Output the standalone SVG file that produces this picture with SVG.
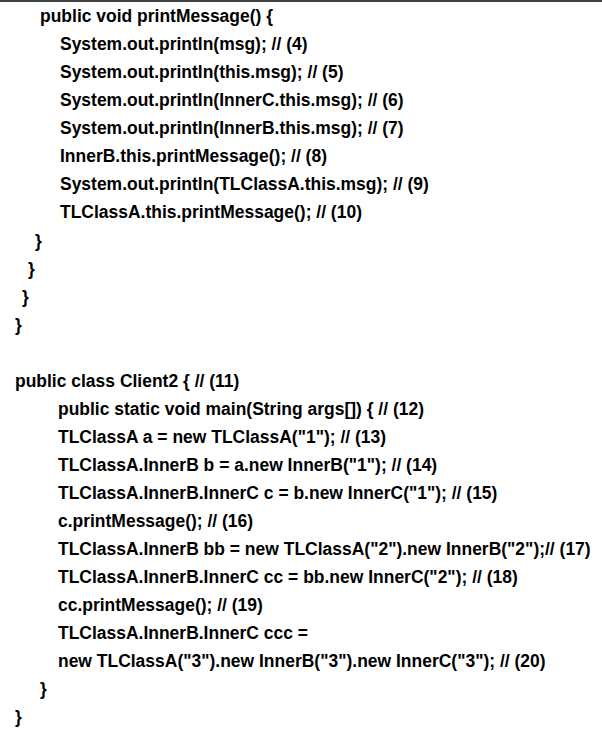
<svg xmlns="http://www.w3.org/2000/svg" width="602" height="739" viewBox="0 0 602 739">
<style>text{font-family:"Liberation Sans",Arial,sans-serif;font-weight:bold;font-size:19px;fill:#000}</style>
<rect width="602" height="739" fill="#fff"/>
<line x1="0" y1="1" x2="602" y2="1" stroke="#000" stroke-width="1.5"/>
<g transform="scale(0.92,1)">
<text x="43.5" y="22">public void printMessage() {</text>
<text x="65.2" y="50">System.out.println(msg); // (4)</text>
<text x="65.2" y="78">System.out.println(this.msg); // (5)</text>
<text x="65.2" y="106">System.out.println(InnerC.this.msg); // (6)</text>
<text x="65.2" y="134">System.out.println(InnerB.this.msg); // (7)</text>
<text x="65.2" y="162">InnerB.this.printMessage(); // (8)</text>
<text x="65.2" y="190">System.out.println(TLClassA.this.msg); // (9)</text>
<text x="65.2" y="218">TLClassA.this.printMessage(); // (10)</text>
<text x="38" y="247">}</text>
<text x="30.4" y="275">}</text>
<text x="23.9" y="303">}</text>
<text x="16.3" y="331">}</text>
<text x="16.3" y="387">public class Client2 { // (11)</text>
<text x="63" y="415">public static void main(String args[]) { // (12)</text>
<text x="63" y="443">TLClassA a = new TLClassA("1"); // (13)</text>
<text x="63" y="471">TLClassA.InnerB b = a.new InnerB("1"); // (14)</text>
<text x="63" y="499">TLClassA.InnerB.InnerC c = b.new InnerC("1"); // (15)</text>
<text x="63" y="527">c.printMessage(); // (16)</text>
<text x="63" y="555">TLClassA.InnerB bb = new TLClassA("2").new InnerB("2");// (17)</text>
<text x="63" y="583">TLClassA.InnerB.InnerC cc = bb.new InnerC("2"); // (18)</text>
<text x="63" y="611">cc.printMessage(); // (19)</text>
<text x="63" y="639">TLClassA.InnerB.InnerC ccc =</text>
<text x="63" y="667">new TLClassA("3").new InnerB("3").new InnerC("3"); // (20)</text>
<text x="43.5" y="695">}</text>
<text x="16.3" y="723">}</text>
</g>
</svg>
